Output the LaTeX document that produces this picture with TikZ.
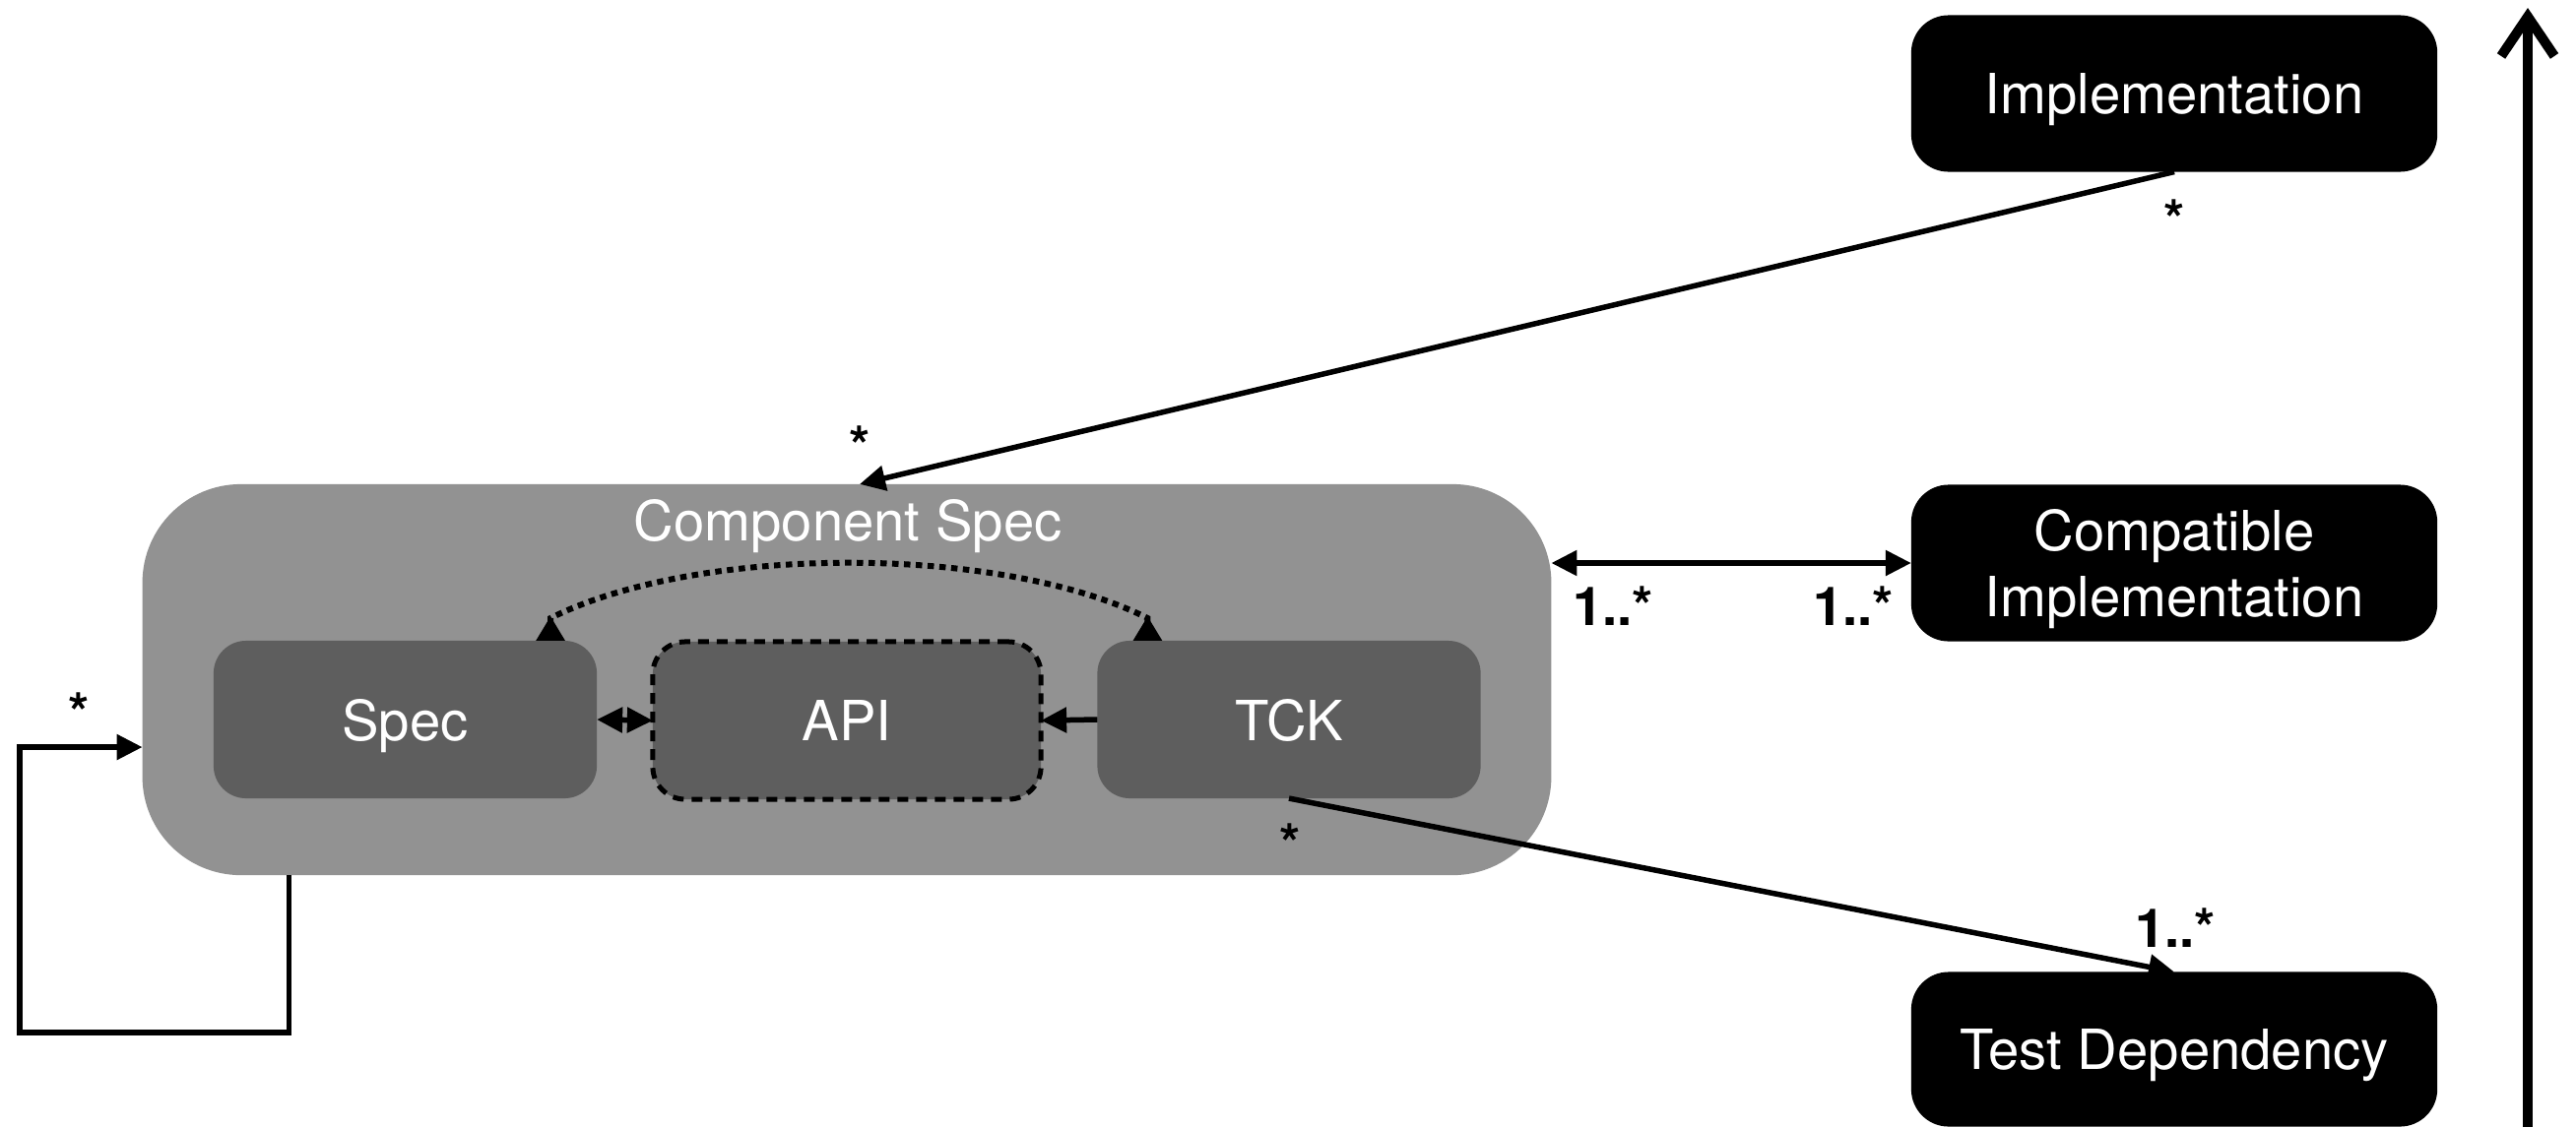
\documentclass[tikz,border=0pt]{standalone}
\usepackage{fontspec}
\setmainfont{TeX Gyre Heros}
\usetikzlibrary{arrows.meta,calc}
\definecolor{outergray}{HTML}{929292}
\definecolor{innergray}{HTML}{5E5E5E}
\begin{document}
\begin{tikzpicture}[x=0.01cm,y=-0.01cm,
  boxtext/.style={rectangle, inner sep=0pt, outer sep=0pt, text=white, font=\fontsize{16}{19}\selectfont, align=center, text depth=0pt},
  blackbox/.style={boxtext, fill=black, rounded corners=0.38cm, minimum width=5.34cm, minimum height=1.59cm},
  innerbox/.style={boxtext, fill=innergray, rounded corners=0.33cm, minimum width=3.89cm, minimum height=1.60cm},
  outerbox/.style={rectangle, inner sep=0pt, outer sep=0pt, fill=outergray, rounded corners=1cm, minimum width=14.30cm, minimum height=3.97cm},
  conn/.style={line width=0.055cm, draw=black},
  headA/.tip={Triangle[length=0.26cm,width=0.25cm]},
  headR/.tip={Triangle[reversed,length=0.25cm,width=0.28cm]},
  mult/.style={font=\bfseries\fontsize{15.5}{18}\selectfont, anchor=base, inner sep=0pt}
]
\useasboundingbox (0,0) rectangle (2616,1145);

% containers and boxes
\node[outerbox] (cs) at (860,690.5) {};
\node[boxtext] (cstitle) at (861,528) {Component Spec};
\node[innerbox] (spec) at (411.5,731) {Spec};
\node[innerbox, draw=black, line width=0.05cm, dash pattern=on 0.11cm off 0.08cm, minimum width=3.94cm] (api) at (860,732) {API};
\node[innerbox] (tck) at (1309,731) {TCK};
\node[blackbox] (impl) at (2208,95) {Implementation};
\node[blackbox] (ci) at (2208,572) {Compatible\\Implementation};
\node[blackbox, minimum height=1.57cm] (td) at (2208,1066) {Test Dependency};

% connectors
\draw[conn, -headA] (impl.south) -- ([xshift=0.13cm]cs.north);
\draw[conn, headA-headA] (ci.west) -- (cs.east |- ci.west);
\draw[conn, -headA] (tck.south) -- (td.north);
\draw[conn, headA-headA] (spec.east) -- (api.west);
\draw[conn, -headA] (tck.west) -- (api.east);

% dotted curve between Spec and TCK
\draw[line width=0.06cm, dash pattern=on 0.065cm off 0.055cm, headR-headR]
  ([xshift=-0.47cm]spec.north east) -- ++(0,-23)
  .. controls +(150,-75) and +(-150,-75) .. ($([xshift=0.51cm]tck.north west)+(0,-23)$)
  -- ([xshift=0.51cm]tck.north west);

% self loop
\coordinate (loopcorner) at (20,1049);
\draw[conn, -headA] ([xshift=1.49cm]cs.south west) |- (loopcorner) |- ([yshift=-0.685cm]cs.west);

% vertical axis arrow
\coordinate (axbot) at (2567,1145);
\coordinate (axtop) at (2567,8);
\draw[line width=0.1cm, -{Straight Barb[length=0.40cm,width=0.54cm]}] (axbot) -- (axtop);

% multiplicities
\node[mult] (m1) at (80,743) {*};
\node[mult] (m2) at (873,472) {*};
\node[mult] (m3) at (2208,242) {*};
\node[mult] (m4) at (1310,876) {*};
\node[mult] (m5) at (1638,635) {1..*};
\node[mult] (m6) at (1882,635) {1..*};
\node[mult] (m7) at (2209,962) {1..*};
\end{tikzpicture}
\end{document}
